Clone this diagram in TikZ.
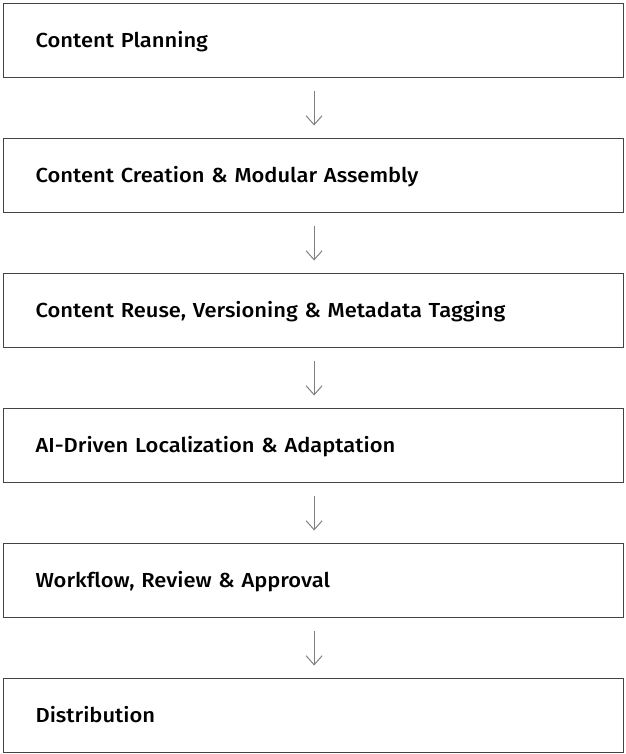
\documentclass[tikz,border=0pt]{standalone}
\usepackage{fontspec}
\setmainfont{Fira Sans}[BoldFont={Fira Sans Medium}, BoldFeatures={FakeStretch=1.08}, Ligatures=NoCommon]
\usetikzlibrary{arrows.meta}
\definecolor{boxline}{HTML}{444444}
\definecolor{arrowline}{HTML}{808080}
\tikzset{
  stepbox/.style={draw=boxline, line width=1.2pt, anchor=north west,
    minimum width=620pt, minimum height=74pt, text width=556pt,
    inner xsep=32pt, inner ysep=0pt, align=left,
    text height=14pt, text depth=0pt,
    font=\fontsize{20.3pt}{22pt}\selectfont\bfseries},
  flowarrow/.style={draw=arrowline, line width=1pt,
    -{Straight Barb[length=9pt,width=16pt,line width=1pt]}},
}
\begin{document}
\begin{tikzpicture}[x=1pt,y=1pt]
\useasboundingbox (0,0) rectangle (625,-754);
\node[stepbox] (b1) at (3,-3) {Content Planning};
\node[stepbox] (b2) at (3,-138) {Content Creation \& Modular Assembly};
\node[stepbox] (b3) at (3,-273) {Content Reuse, Versioning \& Metadata Tagging};
\node[stepbox] (b4) at (3,-408) {AI-Driven Localization \& Adaptation};
\node[stepbox] (b5) at (3,-543) {Workflow, Review \& Approval};
\node[stepbox] (b6) at (3,-678) {Distribution};
\foreach \a/\b in {b1/b2,b2/b3,b3/b4,b4/b5,b5/b6}{
  \draw[flowarrow] ([xshift=0.5pt,yshift=-12.5pt]\a.south) -- ([xshift=0.5pt,yshift=12.5pt]\b.north);
}
\end{tikzpicture}
\end{document}
